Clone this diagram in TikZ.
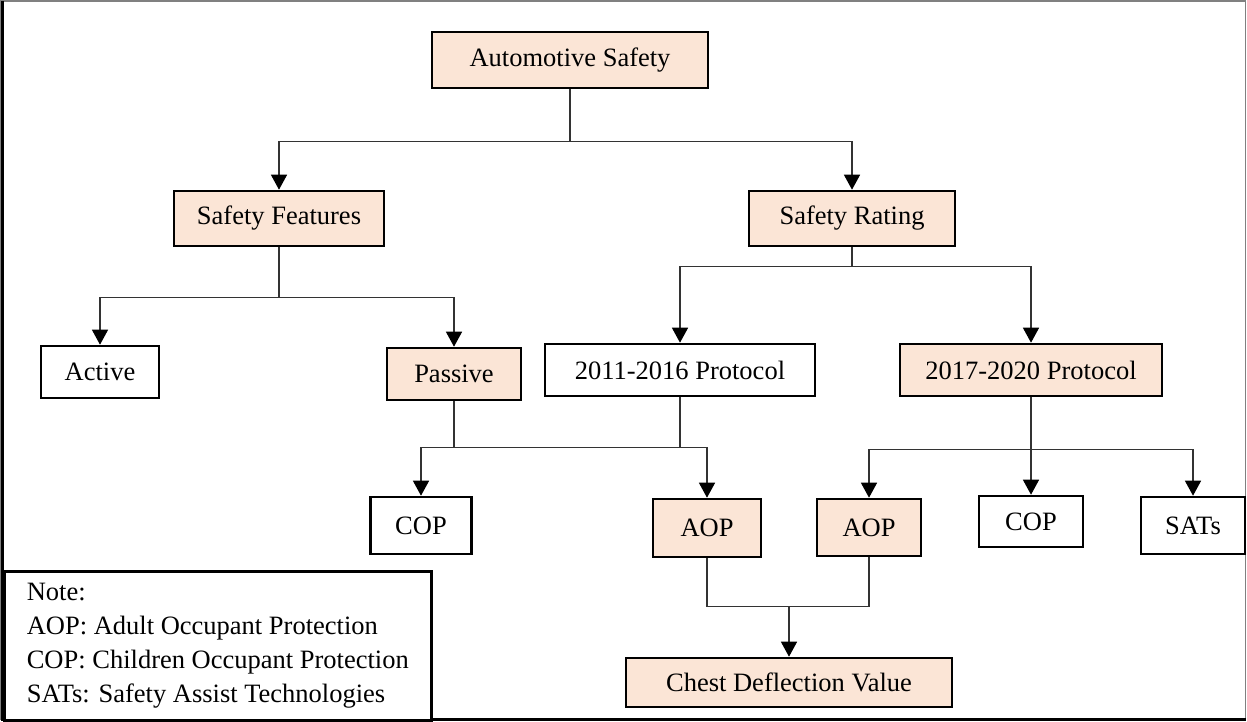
\documentclass[tikz,border=0pt]{standalone}
\usepackage{fontspec}
\setmainfont{Liberation Serif}
\usetikzlibrary{arrows.meta,calc}
\definecolor{peach}{HTML}{FBE5D6}
\begin{document}
\begin{tikzpicture}[x=1pt,y=-1pt,
  box/.style={draw=black,line width=2.6pt,inner sep=0pt,font=\fontsize{26.5}{34}\selectfont},
  fbox/.style={box,fill=peach},
  wbox/.style={box,fill=white},
  conn/.style={draw=black!80,line width=1.4pt},
  arr/.style={conn,-{Triangle[length=15pt,width=16pt,fill=black,color=black]}}]
\useasboundingbox (0,0) rectangle (1247,721);
% frame
\draw[gray,line width=1.2pt] (1,1) rectangle (1245.5,719);
\draw[black,line width=3pt] (2.5,1) -- (2.5,719.5) -- (1246,719.5);
% nodes
\node[fbox,minimum width=276pt,minimum height=56pt] (as) at (570,60) {Automotive Safety};
\node[fbox,minimum width=210pt,minimum height=55pt] (sf) at (279,218.5) {Safety Features};
\node[fbox,minimum width=206pt,minimum height=55pt] (sr) at (852,218.5) {Safety Rating};
\node[wbox,minimum width=118pt,minimum height=52pt] (active) at (100,372) {Active};
\node[fbox,minimum width=134pt,minimum height=52pt] (passive) at (454,374) {Passive};
\node[wbox,minimum width=270pt,minimum height=52pt] (p11) at (680,370) {2011-2016 Protocol};
\node[fbox,minimum width=262pt,minimum height=52pt] (p17) at (1031,370) {2017-2020 Protocol};
\node[wbox,minimum width=101pt,minimum height=57pt] (cop1) at (421,525.5) {COP};
\node[fbox,minimum width=108pt,minimum height=58pt] (aop1) at (707,528) {AOP};
\node[fbox,minimum width=104pt,minimum height=57pt] (aop2) at (869,527.5) {AOP};
\node[wbox,minimum width=104pt,minimum height=51pt] (cop2) at (1031,521.5) {COP};
\node[wbox,minimum width=104pt,minimum height=57pt] (sats) at (1193,525.5) {SATs};
\node[fbox,minimum width=326pt,minimum height=49pt] (cdv) at (789,682.5) {Chest Deflection Value};
\node[wbox,align=left,anchor=north west,minimum width=427pt,minimum height=149pt] (note) at (3,570)
  {Note:\\AOP: Adult Occupant Protection\\COP: Children Occupant Protection\\SATs: Safety Assist Technologies};
% connectors
\draw[conn] (as.south) -- ++(0,52) coordinate (j1);
\draw[arr] (j1) -| (sf.north);
\draw[arr] (j1) -| (sr.north);
\draw[conn] (sf.south) -- ++(0,50) coordinate (j2);
\draw[arr] (j2) -| (active.north);
\draw[arr] (j2) -| (passive.north);
\draw[conn] (sr.south) -- ++(0,19) coordinate (j3);
\draw[arr] (j3) -| (p11.north);
\draw[arr] (j3) -| (p17.north);
\draw[conn] (passive.south) -- ++(0,46) coordinate (j4);
\draw[arr] (j4) -| (cop1.north);
\draw[arr] (j4) -| (aop1.north);
\draw[conn] (p11.south) -- (p11.south |- j4);
\draw[arr] (p17.south) -- (cop2.north);
\coordinate (j5) at ($(p17.south)+(0,52)$);
\draw[arr] (j5) -| (aop2.north);
\draw[arr] (j5) -| (sats.north);
\draw[conn] (aop1.south) -- ++(0,48) coordinate (j6) -| (aop2.south);
\draw[arr] (cdv.north |- j6) -- (cdv.north);
\end{tikzpicture}
\end{document}
